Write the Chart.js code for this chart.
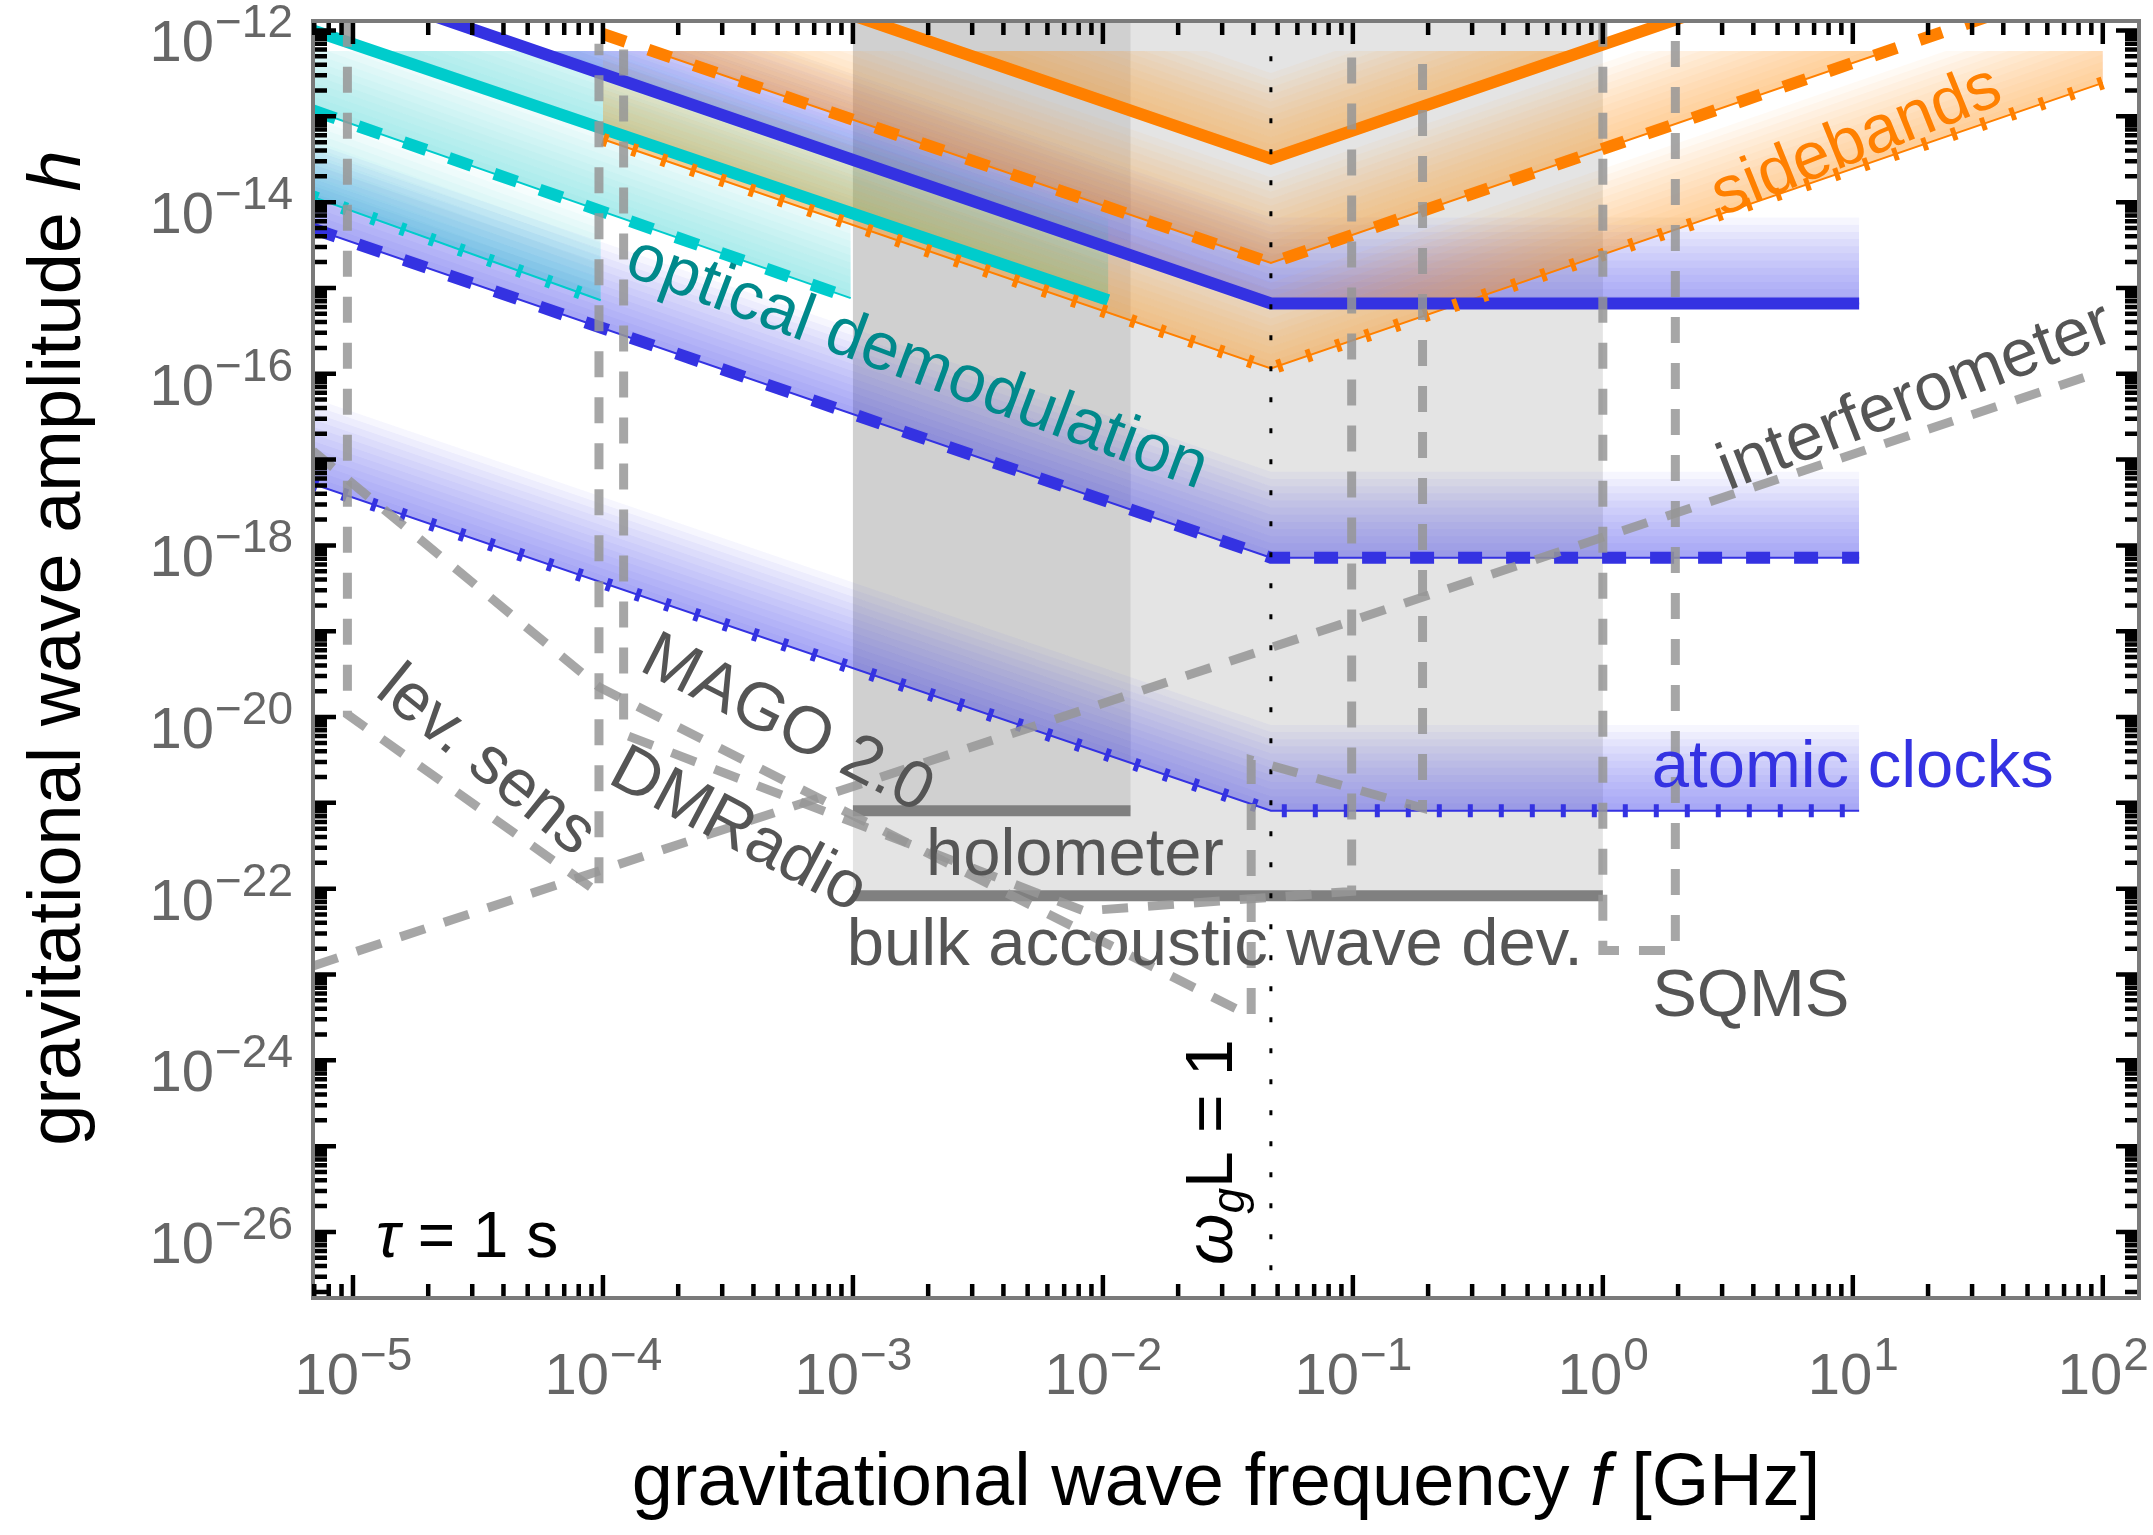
<!DOCTYPE html>
<html>
<head>
<meta charset="utf-8">
<script src="https://cdn.jsdelivr.net/npm/chart.js@4.4.0/dist/chart.umd.min.js"></script>
<style>
  body { margin: 0; background: #fff; }
</style>
</head>
<body>
<canvas id="chart1" width="2153" height="1535"></canvas>
<script>
// Axis ranges
const fMin = 6.92e-6, fMax = 139.6;       // GHz
const hMin = 1.7e-27, hMax = 1.29e-12;
const xTickDecades = [-5, -4, -3, -2, -1, 0, 1, 2];
const yTickDecades = [-12, -14, -16, -18, -20, -22, -24, -26];

// omega_g L = 1
const fRes = 0.047;

// atomic clocks
const clockF = [6.92e-6, 0.047, 10.6];
const clockSolid = [4.5e-12, 6.6e-16, 6.6e-16];
const clockDashed = [4.9e-15, 7.2e-19, 7.2e-19];
const clockDotted = [5.2e-18, 8.1e-22, 8.1e-22];

// sidebands
const sideF = [1e-4, 0.047, 100];
const sideSolid = [1.5e-11, 3.2e-14, 6.9e-11];
const sideDashed = [9.1e-13, 1.95e-15, 4.2e-12];
const sideDotted = [5.4e-14, 1.15e-16, 2.45e-13];

// optical demodulation
const opticalSolidF = [6.92e-6, 1.05e-2];
const opticalSolid = [1.0e-12, 7.2e-16];
const opticalDashedF = [6.92e-6, 9.8e-4];
const opticalDashed = [1.17e-13, 7.6e-16];
const opticalDottedF = [6.92e-6, 9.8e-5];
const opticalDotted = [1.15e-14, 7.2e-16];

// other experiments
const holometerF = [1e-3, 1.29e-2];
const holometerH = 8.1e-22;
const bulkF = [1e-3, 1];
const bulkH = 8.3e-23;
const levSensF = [9.5e-6, 9.5e-6, 9.64e-5, 9.64e-5];
const levSensH = [1.3e-12, 1.07e-20, 8.9e-23, 7e-13];
const magoF = [6.92e-6, 9.64e-5, 0.0392, 0.0392, 0.19, 0.19];
const magoH = [1.26e-17, 2.24e-20, 3.24e-24, 3.16e-21, 8.7e-22, 6e-13];
const dmRadioF = [1.21e-4, 1.21e-4, 8.4e-3, 0.0989, 0.0989];
const dmRadioH = [6e-13, 6.3e-21, 5.5e-23, 9.3e-23, 6e-13];
const interfF = [6.92e-6, 100];
const interfH = [1.26e-23, 1.07e-16];
const sqmsF = [1, 1, 1.95, 1.95];
const sqmsH = [1.3e-12, 1.9e-23, 1.9e-23, 1.3e-12];

const FONT = '"Liberation Sans", Arial, sans-serif';
const BLUE = 'rgb(52,50,226)';
const ORANGE = 'rgb(255,128,0)';
const CYAN = 'rgb(0,204,204)';
const GRAY = 'rgba(150,150,150,0.85)';
const DASHED = [24, 24];
const DOTTED = [5, 26];
const GRAYDASH = [26, 20];

// fading bands above each line
const bandCap = 5.75e-13;
const bandDepth = 1.0;
const bandSteps = 12;
const bands = [
  { f: clockF, h: clockSolid, color: 'rgba(52,50,226,0.042)', edge: BLUE },
  { f: clockF, h: clockDashed, color: 'rgba(52,50,226,0.042)', edge: BLUE },
  { f: clockF, h: clockDotted, color: 'rgba(52,50,226,0.042)', edge: BLUE },
  { f: opticalSolidF, h: opticalSolid, color: 'rgba(0,204,204,0.035)', edge: CYAN },
  { f: opticalDashedF, h: opticalDashed, color: 'rgba(0,204,204,0.035)', edge: CYAN },
  { f: opticalDottedF, h: opticalDotted, color: 'rgba(0,204,204,0.035)', edge: CYAN },
  { f: sideF, h: sideSolid, color: 'rgba(255,128,0,0.045)', edge: ORANGE },
  { f: sideF, h: sideDashed, color: 'rgba(255,128,0,0.045)', edge: ORANGE },
  { f: sideF, h: sideDotted, color: 'rgba(255,128,0,0.045)', edge: ORANGE },
];
const regions = [
  { f: holometerF, h: holometerH },
  { f: bulkF, h: bulkH },
];

const notes = [
  { text: 'optical demodulation', f: 10 ** -2.744, h: 10 ** -15.887, rot: 20.5, color: '#00898b' },
  { text: 'sidebands', f: 10 ** 1.016, h: 10 ** -13.30, rot: -22, color: ORANGE },
  { text: 'interferometer', f: 10 ** 1.252, h: 10 ** -16.28, rot: -21.3, color: '#555' },
  { text: 'MAGO 2.0', f: 10 ** -3.264, h: 10 ** -20.09, rot: 27, color: '#555' },
  { text: 'DMRadio', f: 10 ** -3.46, h: 10 ** -21.33, rot: 28, color: '#555' },
  { text: 'lev. sens', f: 10 ** -4.468, h: 10 ** -20.52, rot: 39, color: '#555' },
  { text: 'atomic clocks', f: 10 ** 1.0, h: 10 ** -20.6, rot: 0, color: BLUE },
  { text: 'holometer', f: 10 ** -2.112, h: 10 ** -21.62, rot: 0, color: '#555' },
  { text: 'bulk accoustic wave dev.', f: 10 ** -1.552, h: 10 ** -22.67, rot: 0, color: '#555' },
  { text: 'SQMS', f: 10 ** 0.592, h: 10 ** -23.27, rot: 0, color: '#555' },
];

const line = (f, h, color, width, dash, order) => ({
  data: f.map((v, i) => ({ x: v, y: h[i] })),
  borderColor: color,
  borderWidth: width,
  borderDash: dash,
  fill: false,
  pointRadius: 0,
  order: order,
});

function logTicks(lo, hi) {
  const out = [];
  for (let d = Math.floor(Math.log10(lo)); d <= Math.ceil(Math.log10(hi)); d++) {
    for (let m = 1; m <= 9; m++) {
      const v = m * Math.pow(10, d);
      if (v >= lo && v <= hi) out.push({ v: v, major: m === 1 });
    }
  }
  return out;
}

function pathOf(ctx, x, y, f, h, k) {
  f.forEach((v, i) => {
    const px = x.getPixelForValue(v), py = y.getPixelForValue(h[i] * k);
    if (i) ctx.lineTo(px, py); else ctx.moveTo(px, py);
  });
}

// Gray regions and fading bands under the lines
const bandPlugin = {
  id: 'bands',
  beforeDatasetsDraw(chart) {
    const { ctx, chartArea: a, scales: { x, y } } = chart;
    ctx.save();
    ctx.beginPath();
    ctx.rect(a.left, a.top, a.right - a.left, a.bottom - a.top);
    ctx.clip();
    regions.forEach(r => {
      const x0 = x.getPixelForValue(r.f[0]), x1 = x.getPixelForValue(r.f[1]);
      const yb = y.getPixelForValue(r.h);
      ctx.fillStyle = 'rgba(151,151,151,0.26)';
      ctx.fillRect(x0, a.top - 5, x1 - x0, yb - a.top + 5);
    });
    const capPx = y.getPixelForValue(bandCap);
    ctx.beginPath();
    ctx.rect(a.left, capPx, a.right - a.left, a.bottom - capPx);
    ctx.clip();
    bands.forEach(b => {
      for (let k = 1; k <= bandSteps; k++) {
        const up = Math.pow(10, bandDepth * k / bandSteps);
        ctx.beginPath();
        pathOf(ctx, x, y, b.f, b.h, 1);
        for (let i = b.f.length - 1; i >= 0; i--) {
          ctx.lineTo(x.getPixelForValue(b.f[i]), y.getPixelForValue(b.h[i] * up));
        }
        ctx.closePath();
        ctx.fillStyle = b.color;
        ctx.fill();
      }
      ctx.beginPath();
      pathOf(ctx, x, y, b.f, b.h, 1);
      ctx.strokeStyle = b.edge;
      ctx.lineWidth = 2;
      ctx.stroke();
    });
    ctx.restore();
  },
};

function supLabel(ctx, exp, x, yBase, align) {
  const base = '10';
  const sup = exp < 0 ? '\u2212' + (-exp) : String(exp);
  ctx.font = '58px ' + FONT;
  const wb = ctx.measureText(base).width;
  ctx.font = '46px ' + FONT;
  const ws = ctx.measureText(sup).width;
  const start = align === 'center' ? x - (wb + ws) / 2 : x - wb - ws;
  ctx.textAlign = 'left';
  ctx.textBaseline = 'alphabetic';
  ctx.font = '58px ' + FONT;
  ctx.fillText(base, start, yBase);
  ctx.font = '46px ' + FONT;
  ctx.fillText(sup, start + wb + 1, yBase - 24);
}

function partsText(ctx, parts, size) {
  let w = 0;
  parts.forEach(p => { ctx.font = p[1] + size + 'px ' + FONT; w += ctx.measureText(p[0]).width; });
  return w;
}

function drawParts(ctx, parts, size, x0, y0) {
  let x = x0;
  parts.forEach(p => {
    ctx.font = p[1] + (p[2] || size) + 'px ' + FONT;
    ctx.fillText(p[0], x, y0 + (p[3] || 0));
    x += ctx.measureText(p[0]).width;
  });
}

// Frame, ticks, tick labels, titles and notes
const framePlugin = {
  id: 'frame',
  afterDraw(chart) {
    const { ctx, chartArea: a, scales: { x, y } } = chart;
    ctx.save();
    ctx.strokeStyle = '#7a7a7a';
    ctx.lineWidth = 4;
    ctx.strokeRect(a.left, a.top, a.right - a.left, a.bottom - a.top);

    ctx.strokeStyle = '#000';
    ctx.lineWidth = 4.5;
    ctx.beginPath();
    logTicks(fMin, fMax).forEach(t => {
      const px = x.getPixelForValue(t.v), len = t.major ? 21 : 12;
      ctx.moveTo(px, a.bottom - 2); ctx.lineTo(px, a.bottom - 2 - len);
      ctx.moveTo(px, a.top + 2); ctx.lineTo(px, a.top + 2 + len);
    });
    logTicks(hMin, hMax).forEach(t => {
      const py = y.getPixelForValue(t.v), len = t.major ? 21 : 12;
      ctx.moveTo(a.left + 2, py); ctx.lineTo(a.left + 2 + len, py);
      ctx.moveTo(a.right - 2, py); ctx.lineTo(a.right - 2 - len, py);
    });
    ctx.stroke();

    ctx.fillStyle = '#666';
    xTickDecades.forEach(d => supLabel(ctx, d, x.getPixelForValue(Math.pow(10, d)), 1394, 'center'));
    yTickDecades.forEach(d => supLabel(ctx, d, 292, y.getPixelForValue(Math.pow(10, d)) + 31, 'right'));

    // axis titles
    ctx.fillStyle = '#000';
    ctx.textAlign = 'left';
    ctx.textBaseline = 'alphabetic';
    const xt = [['gravitational wave frequency ', ''], ['f', 'italic '], [' [GHz]', '']];
    const wx = partsText(ctx, xt, 74);
    drawParts(ctx, xt, 74, (a.left + a.right) / 2 - wx / 2, 1505);
    const yt = [['gravitational wave amplitude ', ''], ['h', 'italic ']];
    const wy = partsText(ctx, yt, 74);
    ctx.save();
    ctx.translate(80, 648);
    ctx.rotate(-Math.PI / 2);
    drawParts(ctx, yt, 74, -wy / 2, 0);
    ctx.restore();

    // notes
    notes.forEach(n => {
      ctx.save();
      ctx.translate(x.getPixelForValue(n.f), y.getPixelForValue(n.h));
      ctx.rotate(n.rot * Math.PI / 180);
      ctx.font = '67px ' + FONT;
      ctx.fillStyle = n.color;
      ctx.textAlign = 'center';
      ctx.textBaseline = 'middle';
      ctx.fillText(n.text, 0, 0);
      ctx.restore();
    });

    ctx.fillStyle = '#000';
    ctx.textAlign = 'left';
    ctx.textBaseline = 'alphabetic';
    const tau = [['\u03c4', 'italic '], [' = 1 s', '']];
    drawParts(ctx, tau, 64, x.getPixelForValue(10 ** -4.908), y.getPixelForValue(10 ** -26.29));

    const om = [['\u03c9', 'italic '], ['g', 'italic ', 46, 12], ['L = 1', '']];
    const wo = partsText(ctx, [om[0], om[2]], 66) + 24;
    ctx.save();
    ctx.translate(x.getPixelForValue(10 ** -1.485), y.getPixelForValue(10 ** -25.08));
    ctx.rotate(-Math.PI / 2);
    drawParts(ctx, om, 66, -wo / 2, 0);
    ctx.restore();
    ctx.restore();
  },
};

const chart = new Chart(document.getElementById('chart1').getContext('2d'), {
  type: 'line',
  data: {
    datasets: [
      // gray experiments
      line(levSensF, levSensH, GRAY, 9, GRAYDASH, 1),
      line(magoF, magoH, GRAY, 9, GRAYDASH, 1),
      line(dmRadioF, dmRadioH, GRAY, 9, GRAYDASH, 1),
      line(interfF, interfH, GRAY, 9, GRAYDASH, 1),
      line(sqmsF, sqmsH, GRAY, 9, GRAYDASH, 1),
      // omega L = 1
      line([fRes, fRes], [5e-13, hMin], '#000', 3, [5, 26], 2),
      // sidebands
      line(sideF, sideSolid, ORANGE, 12, [], 3),
      line(sideF, sideDashed, ORANGE, 12, DASHED, 3),
      line(sideF, sideDotted, ORANGE, 13, DOTTED, 3),
      // atomic clocks
      line(clockF, clockSolid, BLUE, 12, [], 4),
      line(clockF, clockDashed, BLUE, 12, DASHED, 4),
      line(clockF, clockDotted, BLUE, 13, DOTTED, 4),
      // optical demodulation
      line(opticalSolidF, opticalSolid, CYAN, 12, [], 5),
      line(opticalDashedF, opticalDashed, CYAN, 12, DASHED, 5),
      line(opticalDottedF, opticalDotted, CYAN, 13, DOTTED, 5),
      // holometer and bulk acoustic bars
      line(holometerF, holometerF.map(() => holometerH), '#808080', 11, [], 6),
      line(bulkF, bulkF.map(() => bulkH), '#808080', 11, [], 6),
    ],
  },
  options: {
    responsive: false,
    animation: false,
    layout: { padding: { left: 313, right: 14, top: 21, bottom: 237 } },
    plugins: { legend: { display: false }, tooltip: { enabled: false } },
    elements: { line: { tension: 0 }, point: { radius: 0 } },
    scales: {
      x: { type: 'logarithmic', min: fMin, max: fMax, display: false },
      y: { type: 'logarithmic', min: hMin, max: hMax, display: false },
    },
  },
  plugins: [bandPlugin, framePlugin],
});
</script>
</body>
</html>
